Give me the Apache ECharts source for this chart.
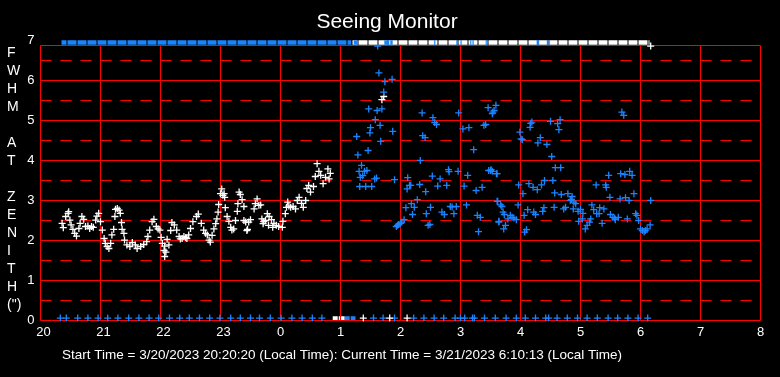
<!DOCTYPE html>
<html>
<head>
<meta charset="utf-8">
<script src="https://cdn.jsdelivr.net/npm/echarts@6/dist/echarts.min.js"></script>
<style>
  html, body { margin: 0; padding: 0; background: #000; }
  #chart { width: 780px; height: 377px; }
</style>
</head>
<body>
<div id="chart"></div>
<script>
// hours after 20:00 keep counting past midnight (24 = 0h, 30 = 6h)
const xTicks = [20, 21, 22, 23, 24, 25, 26, 27, 28, 29, 30, 31, 32]
const ySolid = [1, 2, 3, 4, 5, 6]
const yDashed = [0.5, 1.5, 2.5, 3.5, 4.5, 5.5, 6.5]
const yTop = 6.875 // top edge of the red box
const yNameLines = ['F', 'W', 'H', 'M', '', 'A', 'T', '', 'Z', 'E', 'N', 'I', 'T', 'H', '(")']

// FWHM samples (hour, arcsec)
const whiteObs = [
  [20.36,2.43],[20.38,2.32],[20.42,2.6],[20.46,2.68],[20.47,2.72],[20.49,2.51],[20.51,2.39],[20.54,2.28],
  [20.57,2.18],[20.6,2.11],[20.64,2.3],[20.66,2.43],[20.69,2.6],[20.72,2.53],[20.75,2.35],[20.79,2.36],
  [20.82,2.3],[20.85,2.35],[20.88,2.33],[20.92,2.51],[20.94,2.61],[20.97,2.68],[21.0,2.47],[21.03,2.26],
  [21.06,2.05],[21.08,1.93],[21.11,1.85],[21.14,1.8],[21.17,1.93],[21.19,2.14],[21.22,2.28],[21.24,2.6],
  [21.25,2.78],[21.28,2.8],[21.31,2.76],[21.33,2.68],[21.35,2.45],[21.36,2.28],[21.39,2.18],[21.4,2.01],
  [21.44,1.89],[21.49,1.85],[21.53,1.95],[21.58,1.89],[21.61,1.8],[21.67,1.85],[21.72,1.9],[21.77,1.97],
  [21.79,2.1],[21.82,2.26],[21.86,2.47],[21.89,2.53],[21.93,2.35],[21.96,2.29],[21.99,2.26],[22.01,2.08],
  [22.03,1.93],[22.06,1.75],[22.07,1.6],[22.09,1.71],[22.07,1.86],[22.11,2.03],[22.14,1.89],[22.17,2.25],
  [22.19,2.45],[22.23,2.39],[22.27,2.26],[22.31,2.1],[22.33,2.04],[22.36,2.05],[22.39,2.1],[22.42,2.07],
  [22.44,2.05],[22.47,2.14],[22.5,2.3],[22.54,2.47],[22.6,2.6],[22.63,2.66],[22.68,2.43],[22.72,2.26],
  [22.75,2.18],[22.78,2.14],[22.81,2.01],[22.83,1.96],[22.86,2.13],[22.89,2.29],[22.92,2.42],[22.94,2.54],
  [22.96,2.71],[22.97,2.9],[23.0,3.17],[23.02,3.29],[23.04,3.13],[23.06,3.17],[23.07,3.08],[23.08,2.82],
  [23.11,2.6],[23.14,2.48],[23.17,2.33],[23.19,2.26],[23.22,2.29],[23.25,2.5],[23.28,2.73],[23.29,2.92],
  [23.31,3.21],[23.33,3.15],[23.36,3.02],[23.39,2.85],[23.39,2.5],[23.42,2.46],[23.44,2.25],[23.45,2.28],
  [23.47,2.46],[23.5,2.52],[23.56,2.79],[23.58,2.92],[23.61,3.04],[23.64,2.88],[23.67,2.89],[23.69,2.54],
  [23.71,2.42],[23.72,2.47],[23.75,2.5],[23.78,2.67],[23.8,2.38],[23.81,2.6],[23.85,2.52],[23.87,2.33],
  [23.89,2.43],[23.93,2.38],[23.97,2.35],[24.03,2.33],[24.04,2.48],[24.08,2.67],[24.1,2.83],[24.12,2.96],
  [24.14,2.86],[24.17,2.83],[24.21,2.85],[24.25,2.79],[24.28,3.0],[24.31,3.08],[24.35,2.93],[24.38,2.83],
  [24.42,3.0],[24.44,3.3],[24.47,3.38],[24.5,3.21],[24.55,3.35],[24.58,3.6],[24.61,3.92],[24.64,3.73],
  [24.67,3.63],[24.71,3.42],[24.75,3.58],[24.79,3.79],[24.81,3.54],[24.83,3.68],[25.69,5.52],[25.72,5.6]
]

const blueObs = [
  [25.62,6.86],[25.64,6.19],[25.74,5.97],[25.86,6.03],[25.72,5.71],[25.47,5.29],[25.61,5.25],[25.69,5.29],
  [25.58,5.02],[25.5,4.82],[25.49,4.69],[25.66,4.88],[25.87,4.73],[25.27,4.6],[25.67,4.48],[25.46,4.25],
  [25.29,4.14],[25.35,3.88],[25.31,3.73],[25.4,3.73],[25.44,3.75],[25.37,3.62],[25.33,3.58],[25.57,3.54],
  [25.6,3.56],[25.9,3.52],[25.32,3.35],[25.42,3.35],[25.52,3.35],[26.33,4.0],[26.36,5.19],[26.54,5.07],
  [26.57,4.95],[26.6,4.9],[26.37,4.62],[26.41,4.57],[26.97,5.19],[27.04,4.79],[27.14,4.82],[27.39,4.88],
  [27.42,4.9],[27.22,4.27],[27.46,5.32],[27.54,5.21],[27.59,5.38],[27.56,5.25],[27.53,5.17],[27.47,3.75],
  [27.51,3.77],[27.53,3.73],[27.61,3.67],[26.12,3.57],[26.11,3.29],[26.15,3.38],[26.17,3.38],[26.32,3.4],
  [26.42,3.22],[26.53,3.61],[26.66,3.54],[26.62,3.36],[26.77,3.38],[26.8,3.77],[26.81,3.72],[26.96,3.73],
  [27.12,3.63],[27.06,3.36],[27.26,3.25],[27.36,3.33],[26.28,3.02],[26.09,2.82],[26.23,2.83],[26.18,2.92],
  [26.5,2.83],[26.43,2.67],[26.2,2.65],[26.49,2.4],[26.46,2.38],[26.69,2.71],[26.73,2.65],[26.83,2.85],
  [26.86,2.84],[26.89,2.67],[26.93,2.85],[27.1,2.89],[27.28,2.63],[27.33,2.58],[27.3,2.22],[27.64,2.48],
  [27.62,2.98],[25.93,2.35],[25.95,2.38],[25.97,2.4],[26.0,2.43],[26.02,2.46],[26.06,2.52],[28.17,4.93],
  [28.19,4.96],[28.16,4.83],[27.99,4.71],[28.01,4.54],[28.03,4.52],[28.33,4.57],[28.29,4.44],[28.44,4.4],
  [28.52,4.1],[28.5,4.98],[28.66,5.02],[28.62,4.92],[28.64,4.77],[29.69,5.21],[29.72,5.13],[27.5,3.75],
  [27.6,3.67],[28.58,3.82],[28.67,3.82],[27.97,3.39],[28.14,3.42],[28.21,3.33],[28.28,3.27],[28.35,3.39],
  [28.4,3.5],[28.54,3.5],[28.04,3.17],[28.57,3.19],[28.68,3.15],[28.79,3.17],[28.86,3.1],[28.83,3.0],
  [28.85,3.02],[28.89,2.96],[28.92,2.92],[28.75,2.83],[28.72,2.79],[28.88,2.79],[29.26,3.39],[29.42,3.39],
  [29.43,3.33],[29.47,3.63],[29.67,3.67],[29.74,3.65],[29.82,3.73],[29.86,3.63],[29.49,3.08],[29.66,3.04],
  [29.75,3.07],[29.81,3.0],[29.89,3.17],[30.17,3.0],[27.61,2.98],[27.67,2.89],[27.69,2.85],[27.96,2.89],
  [28.12,2.77],[28.06,2.63],[28.22,2.71],[28.25,2.65],[28.39,2.82],[28.37,2.73],[28.56,2.83],[27.71,2.71],
  [27.73,2.65],[27.83,2.63],[27.86,2.58],[27.89,2.56],[27.93,2.52],[27.79,2.54],[27.75,2.38],[27.72,2.29],
  [27.64,2.46],[28.1,2.27],[28.07,2.21],[28.96,2.73],[29.0,2.78],[29.04,2.68],[28.97,2.48],[29.03,2.54],
  [29.19,2.89],[29.22,2.77],[29.27,2.67],[29.31,2.67],[29.32,2.82],[29.39,2.79],[29.17,2.54],[29.15,2.46],
  [29.11,2.38],[29.08,2.29],[29.36,2.43],[29.5,2.65],[29.54,2.58],[29.58,2.52],[29.57,2.56],[29.63,2.58],
  [29.78,2.54],[29.92,2.67],[29.94,2.63],[29.97,2.5],[30.0,2.29],[30.03,2.25],[30.06,2.21],[30.08,2.25],
  [30.11,2.29],[30.16,2.39]
]

// readings pinned to the top (7) and bottom (0) rows
const topRow = 6.95
const zeroRow = 0.06
const zeroBar = 0.05
const topWhiteRuns = [[25.2, 30.15]]
const topBlueRuns = [[20.35, 25.18], [25.22, 25.28], [25.73, 25.87]]
const topBlueTicks = [26.57, 26.94, 27.01, 27.17, 27.21, 27.43, 28.28, 28.3, 28.45, 28.48]
const topWhiteEnd = [[30.17, 6.86]]
const zeroWhiteRuns = [[24.87, 25.07]]
const zeroBlueRuns = [[25.07, 25.25]]
const zeroBlueHours = [
  20.33, 20.43, 20.62, 20.79, 20.96, 21.12, 21.29, 21.47, 21.64, 21.81, 21.97, 22.15, 22.32, 22.48,
  22.65, 22.82, 22.99, 23.17, 23.33, 23.5, 23.65, 23.83, 24.01, 24.19, 24.36, 24.53, 24.69, 25.55,
  25.71, 25.9, 26.22, 26.39, 26.56, 26.72, 26.91, 27.0, 27.07, 27.2, 27.23, 27.4, 27.58, 27.76, 27.93,
  28.08, 28.25, 28.42, 28.47, 28.61, 28.78, 28.95, 29.11, 29.28, 29.46, 29.62, 29.79, 29.96, 30.12
]
const zeroWhiteHours = [25.38, 25.82, 26.11]

const white = '#ffffff'
const blue = '#1a84ff'
const red = '#ff0000'
// plus sign with arms about 1.3px thick at 7px size
const plus = 'path://M2.85,0H4.15V2.85H7V4.15H4.15V7H2.85V4.15H0V2.85H2.85Z'

const chart = echarts.init(document.getElementById('chart'))

const runSeries = (runs, y, color) => runs.map(r => ({
  type: 'line',
  data: [[r[0], y], [r[1], y]],
  symbol: 'none',
  silent: true,
  z: 3,
  lineStyle: { color: color, width: 4.5, type: [9, 1], dashOffset: 4 }
}))

const pointSeries = (data, color, z) => ({
  type: 'scatter',
  data: data,
  symbol: plus,
  symbolSize: 7,
  silent: true,
  clip: false,
  z: z,
  itemStyle: { color: color, opacity: 1 }
})

const solidLines = [
  ...xTicks.map(x => [{ coord: [x, 0] }, { coord: [x, yTop] }]),
  ...[0, ...ySolid, yTop].map(y => [{ coord: [20, y] }, { coord: [32, y] }])
]
const dashedLines = yDashed.map(y => [{ coord: [20, y] }, { coord: [32, y] }])

const option = {
  backgroundColor: '#000',
  animation: false,
  textStyle: { fontFamily: 'Liberation Sans' },
  grid: { left: 40.5, right: 19.5, top: 40.5, bottom: 56.5 },
  xAxis: {
    type: 'value',
    min: 20,
    max: 32,
    interval: 1,
    axisLine: { show: false },
    axisTick: { show: false },
    splitLine: { show: false },
    axisLabel: {
      color: white,
      fontSize: 13,
      margin: 5,
      formatter: v => {
        const s = String(v % 24)
        return s.length > 1 ? '{w|' + s + '}' : s
      },
      rich: { w: { color: white, fontSize: 13, padding: [0, 0, 0, 6] } }
    }
  },
  yAxis: {
    type: 'value',
    min: 0,
    max: 7,
    interval: 1,
    axisLine: { show: false },
    axisTick: { show: false },
    splitLine: { show: false },
    axisLabel: { color: white, fontSize: 13, margin: 6 }
  },
  graphic: [
    {
      type: 'text', x: 387, y: 22, silent: true,
      style: { text: 'Seeing Monitor', fill: white, font: '21px "Liberation Sans"', textAlign: 'center', textVerticalAlign: 'middle' }
    },
    {
      type: 'text', x: 7, y: 44, silent: true,
      style: { text: yNameLines.join('\n'), fill: white, font: '14px "Liberation Sans"', lineHeight: 18, textAlign: 'left', textVerticalAlign: 'top' }
    },
    {
      type: 'text', x: 62, y: 355, silent: true,
      style: {
        text: 'Start Time = 3/20/2023 20:20:20 (Local Time): Current Time = 3/21/2023 6:10:13 (Local Time)',
        fill: white, font: '13.5px "Liberation Sans"', textAlign: 'left', textVerticalAlign: 'middle'
      }
    }
  ],
  series: [
    {
      type: 'scatter',
      data: [],
      silent: true,
      z: 1,
      markLine: {
        silent: true,
        symbol: ['none', 'none'],
        label: { show: false },
        lineStyle: { color: red, width: 1, type: 'solid' },
        data: solidLines
      }
    },
    {
      type: 'scatter',
      data: [],
      silent: true,
      z: 1,
      markLine: {
        silent: true,
        symbol: ['none', 'none'],
        label: { show: false },
        lineStyle: { color: red, width: 1, type: [11, 9] },
        data: dashedLines
      }
    },
    ...runSeries(topWhiteRuns, topRow, white),
    ...runSeries(topBlueRuns, topRow, blue),
    ...runSeries(zeroWhiteRuns, zeroBar, white),
    ...runSeries(zeroBlueRuns, zeroBar, blue),
    {
      type: 'scatter',
      data: topBlueTicks.map(h => [h, topRow]),
      symbol: 'rect',
      symbolSize: [1.5, 5],
      silent: true,
      clip: false,
      z: 4,
      itemStyle: { color: blue }
    },
    pointSeries(topWhiteEnd, white, 5),
    pointSeries(zeroBlueHours.map(h => [h, zeroRow]), blue, 5),
    pointSeries(zeroWhiteHours.map(h => [h, zeroRow]), white, 5),
    pointSeries(whiteObs, white, 6),
    pointSeries(blueObs, blue, 6)
  ]
}

chart.setOption(option)
</script>
</body>
</html>
